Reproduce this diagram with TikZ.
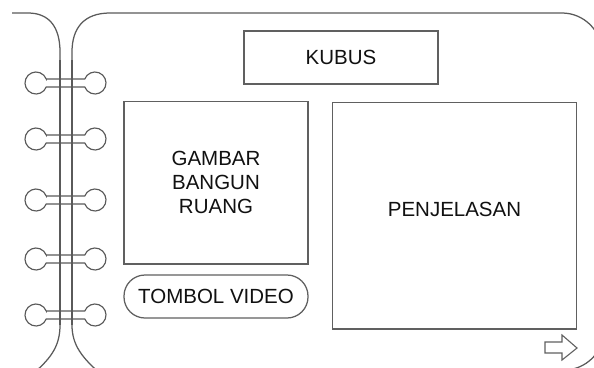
\documentclass[tikz,border=0pt]{standalone}
\usepackage{fontspec}
\setmainfont{Liberation Sans}
\definecolor{linegray}{HTML}{5A5A5A}
\definecolor{boxgray}{HTML}{606060}
\definecolor{textdark}{HTML}{111111}
\begin{document}
\begin{tikzpicture}[x=1pt,y=-1pt,
  pageline/.style={draw=linegray, line width=1.25pt},
  ringline/.style={draw=linegray, line width=1.15pt},
  box/.style={draw=boxgray, line width=1.25pt, rectangle, inner sep=0pt,
    font=\fontsize{20.5}{24}\selectfont, text=textdark, align=center},
  pill/.style={box, rounded corners=21pt}]
\useasboundingbox (0,0) rectangle (594,367);
\fill[white] (0,0) rectangle (594,367);
\clip (0,0) rectangle (594,367);

% left page
\draw[pageline] (12,13) -- (28,13) .. controls (50,13) and (60,28) .. (60,52)
  -- (60,325) .. controls (60,345) and (52,357) .. (35,372);
% right page
\draw[pageline] (102,375) .. controls (82,358) and (72,345) .. (72,325)
  -- (72,52) .. controls (72,28) and (84,13) .. (110,13)
  -- (562,13) .. controls (584,13) and (602,31) .. (602,53)
  -- (604,330) .. controls (604,352) and (586,370) .. (564,370);

% rings
\foreach \yy in {83,139,200,259,315}{
  \draw[ringline] (46.25,\yy-4) -- (84.75,\yy-4)
    arc[start angle=201.3, end angle=518.7, radius=11]
    -- (46.25,\yy+4)
    arc[start angle=21.3, end angle=338.7, radius=11] -- cycle;
}
% page lines over rings
\draw[pageline] (60,60) -- (60,325);
\draw[pageline] (72,60) -- (72,325);

% boxes
\node[box, minimum width=194pt, minimum height=53pt] (kubus) at (341,57.5) {KUBUS};
\node[box, minimum width=184pt, minimum height=162.5pt] (gambar) at (216,182.75) {GAMBAR\\BANGUN\\RUANG};
\node[box, minimum width=244pt, minimum height=226.5pt, text depth=12pt] (penjelasan) at (454.5,215.75) {PENJELASAN};
\node[pill, minimum width=184pt, minimum height=43pt] (tombol) at (216,296.5) {TOMBOL VIDEO};

% next arrow
\draw[draw=boxgray, line width=1.1pt, line join=miter] (545,342) -- (562,342) -- (562,335) -- (577,348)
  -- (562,360) -- (562,353) -- (545,353) -- cycle;
\end{tikzpicture}
\end{document}
